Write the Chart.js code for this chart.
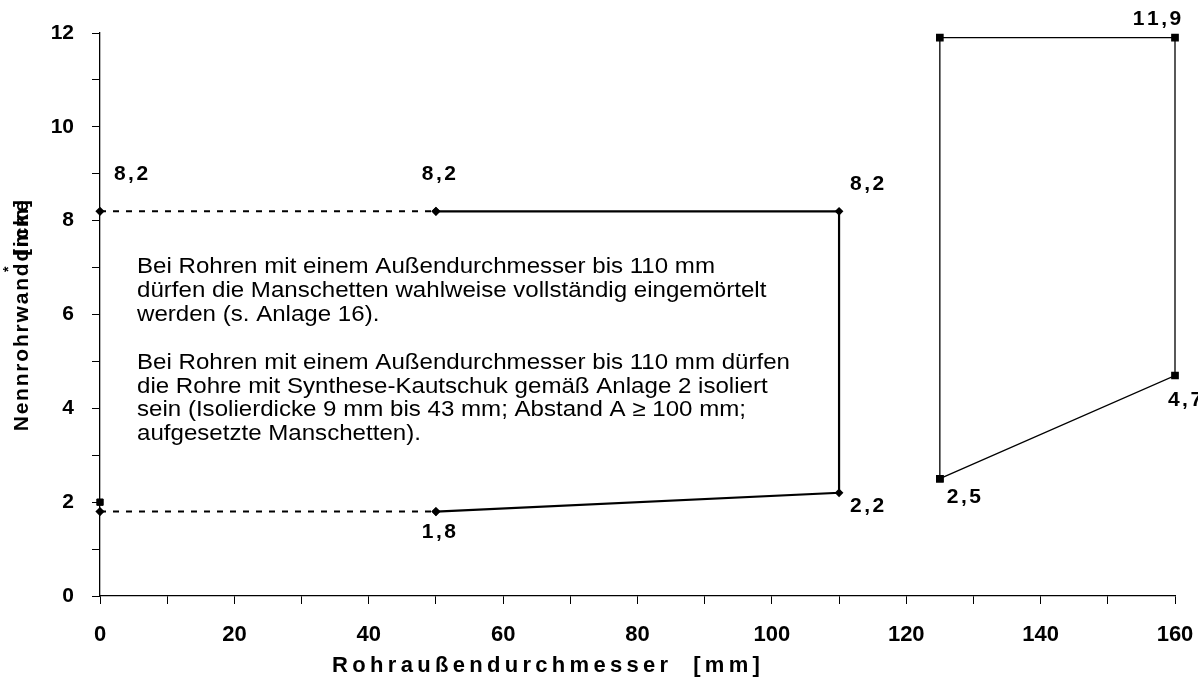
<!DOCTYPE html>
<html>
<head>
<meta charset="utf-8">
<script src="https://cdn.jsdelivr.net/npm/chart.js@4"></script>
<style>
  body { margin: 0; background: #fff; }
  #chart { width: 1198px; height: 684px; }
</style>
</head>
<body>
<div id="chart"><canvas id="c" width="1198" height="684"></canvas></div>
<script>
// Daten
const dashTopX = [0, 50];
const dashTopY = [8.2, 8.2];
const dashBotX = [0, 50];
const dashBotY = [1.8, 1.8];
const mainX = [50, 110, 110, 50];
const mainY = [8.2, 8.2, 2.2, 1.8];
const boxX = [125, 125, 160, 160, 125];
const boxY = [2.5, 11.9, 11.9, 4.7, 2.5];
const markX = [0];
const markY = [2];
const xTickLabels = [0, 20, 40, 60, 80, 100, 120, 140, 160];
const yTickLabels = [0, 2, 4, 6, 8, 10, 12];
const noteLines = [
  'Bei Rohren mit einem Außendurchmesser bis 110 mm',
  'dürfen die Manschetten wahlweise vollständig eingemörtelt',
  'werden (s. Anlage 16).',
  '',
  'Bei Rohren mit einem Außendurchmesser bis 110 mm dürfen',
  'die Rohre mit Synthese-Kautschuk gemäß Anlage 2 isoliert',
  'sein (Isolierdicke 9 mm bis 43 mm; Abstand A \u2265 100 mm;',
  'aufgesetzte Manschetten).'
];

const pts = (xs, ys) => xs.map((x, i) => ({ x: x, y: ys[i] }));

// wo die Wertbeschriftungen sitzen (Datensatz, Punkt, Versatz)
const valueLabels = [
  { ds: 0, i: 0, dx: 31, dy: -37 },
  { ds: 0, i: 1, dx: 3, dy: -37 },
  { ds: 2, i: 1, dx: 28, dy: -27 },
  { ds: 2, i: 2, dx: 28, dy: 13 },
  { ds: 2, i: 3, dx: 3, dy: 21 },
  { ds: 3, i: 0, dx: 24, dy: 18 },
  { ds: 3, i: 3, dx: 10, dy: 25 },
  { ds: 3, i: 2, dx: -18, dy: -18 }
];

const family = '"Liberation Sans", Arial, sans-serif';

// Text mit Zeichenabstand, zentriert auf x
function spaced(c, text, x, y, gap) {
  const chars = [...text];
  const widths = chars.map(ch => c.measureText(ch).width);
  const total = widths.reduce((a, b) => a + b, 0) + gap * (chars.length - 1);
  let cx = x - total / 2;
  c.textAlign = 'left';
  chars.forEach((ch, k) => {
    c.fillText(ch, cx, y);
    cx += widths[k] + gap;
  });
}

const extras = {
  id: 'extras',
  afterDatasetsDraw(chart) {
    const c = chart.ctx;
    const xs = chart.scales.x, ys = chart.scales.y;
    c.save();
    c.fillStyle = '#000';
    c.textBaseline = 'middle';
    c.font = 'bold 21px ' + family;
    valueLabels.forEach(l => {
      const p = chart.data.datasets[l.ds].data[l.i];
      const t = String(p.y).replace('.', ',');
      spaced(c, t, xs.getPixelForValue(p.x) + l.dx, ys.getPixelForValue(p.y) + l.dy, 2.5);
    });
    // Hinweistext (leicht in die Breite gezogen wie im Original)
    c.save();
    c.font = '22px ' + family;
    c.textAlign = 'left';
    c.translate(137, 0);
    c.scale(1.095, 1);
    noteLines.forEach((line, k) => {
      c.fillText(line, 0, 267 + k * 23.9);
    });
    c.restore();
    // Achsentitel
    c.font = 'bold 22px ' + family;
    spaced(c, 'Rohraußendurchmesser  [mm]', 546, 666, 4.3);
    c.font = 'bold 21px ' + family;
    c.translate(22, 0);
    c.rotate(-Math.PI / 2);
    spaced(c, 'Nennrohrwanddicke', -316, 0, 1.8);
    spaced(c, '[mm]', -228, 0, 1.5);
    c.font = 'bold 14px ' + family;
    c.textAlign = 'left';
    c.fillText('*', -272, -13);
    c.restore();
  }
};

const pointDefaults = { pointBackgroundColor: '#000', pointBorderColor: '#000', clip: false };

const ctx = document.getElementById('c');
new Chart(ctx, {
  type: 'scatter',
  data: {
    datasets: [
      Object.assign({ data: pts(dashTopX, dashTopY), showLine: true, borderColor: '#000', borderWidth: 2, borderDash: [6, 7],
        pointStyle: 'rectRot', pointRadius: 3.2 }, pointDefaults),
      Object.assign({ data: pts(dashBotX, dashBotY), showLine: true, borderColor: '#000', borderWidth: 2, borderDash: [6, 7],
        pointStyle: 'rectRot', pointRadius: 3.2 }, pointDefaults),
      Object.assign({ data: pts(mainX, mainY), showLine: true, borderColor: '#000', borderWidth: 2.2,
        pointStyle: 'rectRot', pointRadius: 2.8 }, pointDefaults),
      Object.assign({ data: pts(boxX, boxY), showLine: true, borderColor: '#000', borderWidth: 1.3,
        pointStyle: 'rect', pointRadius: 4.5 }, pointDefaults),
      Object.assign({ data: pts(markX, markY), showLine: false,
        pointStyle: 'rect', pointRadius: 4.5 }, pointDefaults)
    ]
  },
  options: {
    responsive: false,
    animation: false,
    layout: { padding: { left: 0, right: 23, top: 33, bottom: 0 } },
    plugins: { legend: { display: false }, tooltip: { enabled: false } },
    scales: {
      x: {
        type: 'linear', min: 0, max: 160,
        afterFit(s) { s.height = 88; s.paddingLeft = 0; s.paddingRight = 0; },
        border: { color: '#000', width: 1.3 },
        grid: { drawOnChartArea: false, drawTicks: true, tickLength: 8, color: '#000' },
        ticks: {
          stepSize: 10, autoSkip: false, maxRotation: 0, color: '#000', padding: 18,
          font: { family: family, size: 22, weight: 'bold' },
          callback: v => xTickLabels.includes(v) ? String(v) : ''
        }
      },
      y: {
        type: 'linear', min: 0, max: 12,
        afterFit(s) { s.width = 100; s.paddingTop = 0; s.paddingBottom = 0; },
        border: { color: '#000', width: 1.3 },
        grid: { drawOnChartArea: false, drawTicks: true, tickLength: 8, color: '#000' },
        ticks: {
          stepSize: 1, autoSkip: false, color: '#000', padding: 18,
          font: { family: family, size: 21, weight: 'bold' },
          callback: v => yTickLabels.includes(v) ? String(v) : ''
        }
      }
    }
  },
  plugins: [extras]
});
</script>
</body>
</html>
